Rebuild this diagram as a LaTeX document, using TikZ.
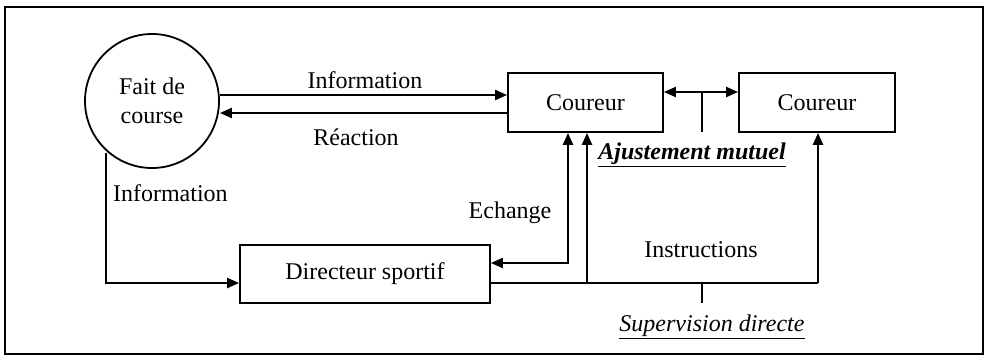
\documentclass[tikz,border=0pt]{standalone}
\usepackage{fontspec}
\setmainfont{Liberation Serif}
\usetikzlibrary{arrows.meta}
\begin{document}
\begin{tikzpicture}[x=1pt,y=-1pt,
  line width=2.2pt,
  >={Triangle[length=12pt,width=10pt]},
  box/.style={draw,line width=1.8pt,inner sep=0pt,font=\fontsize{24}{26}\selectfont},
  lbl/.style={font=\fontsize{24}{26}\selectfont,inner sep=1pt},
  ulbl/.style={font=\fontsize{24}{26}\selectfont\itshape,inner sep=1pt},
  tick/.style={line width=1.4pt}]
\useasboundingbox (0,0) rectangle (991,357);
\draw[line width=2.2pt] (5,7) rectangle (983,354);
% nodes
\node[draw,circle,line width=1.8pt,minimum size=134pt,inner sep=0pt,align=center,font=\fontsize{24}{29}\selectfont] (fait) at (152,101) {Fait de\\course};
\node[box,minimum width=155pt,minimum height=59pt] (c1) at (585.5,102.5) {Coureur};
\node[box,minimum width=156pt,minimum height=59pt] (c2) at (817,102.5) {Coureur};
\node[box,minimum width=250pt,minimum height=58pt] (ds) at (365,274) {Directeur sportif};
% coordinates
\coordinate (jA) at (106,283);
\coordinate (eB) at (568,263);
\coordinate (iS) at (587,283);
\coordinate (iC) at (818,283);
% Information / Reaction
\draw[->] (fait.east |- 0,95) -- (c1.west |- 0,95);
\draw[->] (c1.west |- 0,113) -- (fait.east |- 0,113);
\node[lbl] (linfo) at (365,80) {Information};
\node[lbl] (lreac) at (356,137) {Réaction};
% left information
\draw[->] (fait.south -| jA) ++(0,-16) -- (jA) -- (ds.west |- jA);
\node[lbl,anchor=west] (linfo2) at (111,193) {Information};
% Echange
\draw[<->] (c1.south -| eB) -- (eB) -- (ds.east |- eB);
\node[lbl] (lech) at (510,213) {Echange};
% Instructions
\draw (ds.east |- iS) -- (iC);
\draw[->] (iS) -- (c1.south -| iS);
\draw[->] (iC) -- (c2.south -| iC);
\node[lbl] (linst) at (701,250) {Instructions};
\coordinate (tS) at (702,283);
\draw[tick] (tS) -- ++(0,20);
\node[ulbl] (lsup) at (712,327) {\underline{Supervision directe}};
% mutual
\draw[<->] (c1.east |- 0,92) -- (c2.west |- 0,92);
\coordinate (tM) at (702,92);
\draw[tick] (tM) -- (702,132);
\node[ulbl,font=\fontsize{24}{26}\selectfont\bfseries\itshape] (laj) at (692,155) {\underline{Ajustement mutuel}};
\end{tikzpicture}
\end{document}
